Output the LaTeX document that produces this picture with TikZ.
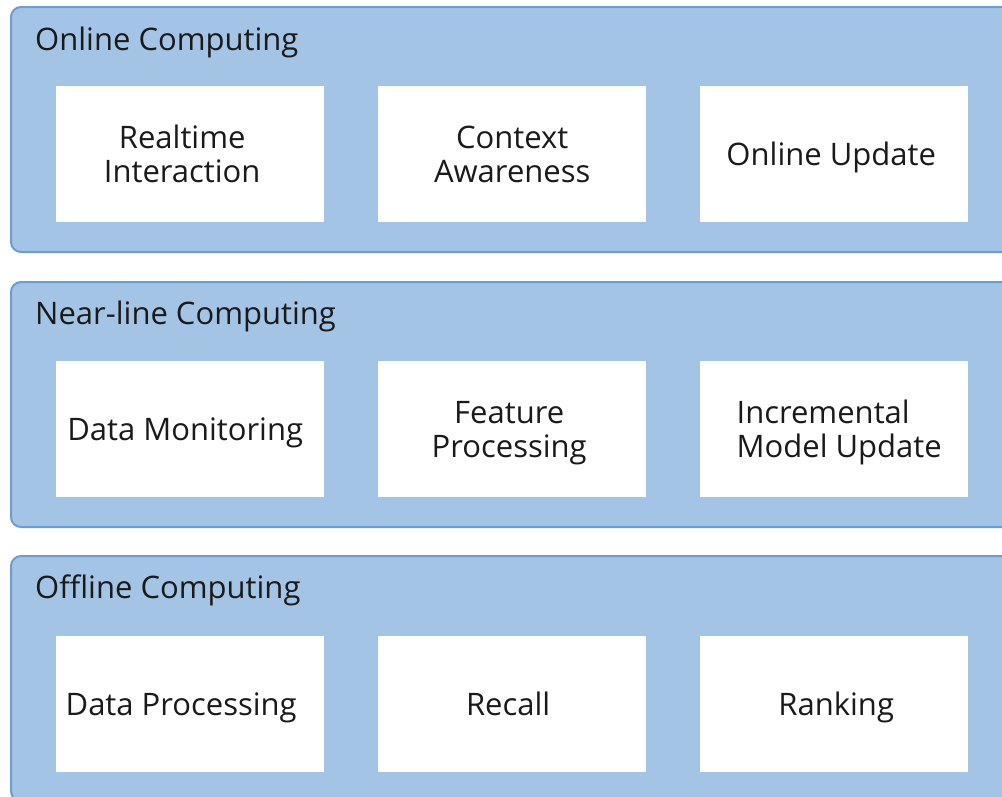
\documentclass[tikz,border=0pt]{standalone}
\usepackage{fontspec}
\setmainfont{Open Sans}
\definecolor{panelfill}{RGB}{163,196,228}
\definecolor{paneledge}{RGB}{106,157,212}
\definecolor{inktext}{RGB}{26,26,26}
% one line of cell text with its height and depth hidden, so that a cell's
% label is centred on the baselines of its lines
\newcommand\cellline[1]{\smash{#1}}
\tikzset{
  panel/.style={draw=paneledge, fill=panelfill, line width=2pt, rounded corners=10pt,
    anchor=north west, minimum width=1040pt, minimum height=245pt, inner sep=0pt},
  tier/.style={anchor=base west, inner sep=0pt, text=inktext,
    font=\fontsize{31}{33.3}\selectfont},
  cell/.style={fill=white, draw=none, anchor=north west, minimum width=268pt,
    minimum height=136pt, inner sep=0pt},
  celltext/.style={align=center, text=inktext, inner sep=0pt, yshift=-11.3pt,
    font=\fontsize{31}{33.3}\selectfont},
}
\begin{document}
\begin{tikzpicture}[x=1pt,y=-1pt]
\useasboundingbox (0,0) rectangle (1002,796);
\clip (0,0) rectangle (1002,796);
\fill[white] (0,0) rectangle (1002,796);

% online tier
\node[panel] (online) at (10,6) {};
\node[tier] (onlinet) at (35,50) {Online Computing};
\node[cell] (c11) at (56,86) {};
\node[cell] (c12) at (378,86) {};
\node[cell] (c13) at (700,86) {};
\node[celltext, xshift=-8pt] (t11) at (c11.center) {\cellline{Realtime}\\\cellline{Interaction}};
\node[celltext] (t12) at (c12.center) {\cellline{Context}\\\cellline{Awareness}};
\node[celltext, xshift=-3pt] (t13) at (c13.center) {\cellline{Online Update}};

% near-line tier
\node[panel] (nearline) at (10,281) {};
\node[tier] (nearlinet) at (35,324) {Near-line Computing};
\node[cell] (c21) at (56,361) {};
\node[cell] (c22) at (378,361) {};
\node[cell] (c23) at (700,361) {};
\node[celltext, xshift=-5pt] (t21) at (c21.center) {\cellline{Data Monitoring}};
\node[celltext, xshift=-3pt] (t22) at (c22.center) {\cellline{Feature}\\\cellline{Processing}};
\node[celltext, align=left, xshift=5pt] (t23) at (c23.center) {\cellline{Incremental}\\\cellline{Model Update}};

% offline tier
\node[panel] (offline) at (10,555) {};
\node[tier] (offlinet) at (35,598) {Offline Computing};
\node[cell] (c31) at (56,636) {};
\node[cell] (c32) at (378,636) {};
\node[cell] (c33) at (700,636) {};
\node[celltext, xshift=-9pt] (t31) at (c31.center) {\cellline{Data Processing}};
\node[celltext, xshift=-4pt] (t32) at (c32.center) {\cellline{Recall}};
\node[celltext, xshift=2pt] (t33) at (c33.center) {\cellline{Ranking}};
\end{tikzpicture}
\end{document}
